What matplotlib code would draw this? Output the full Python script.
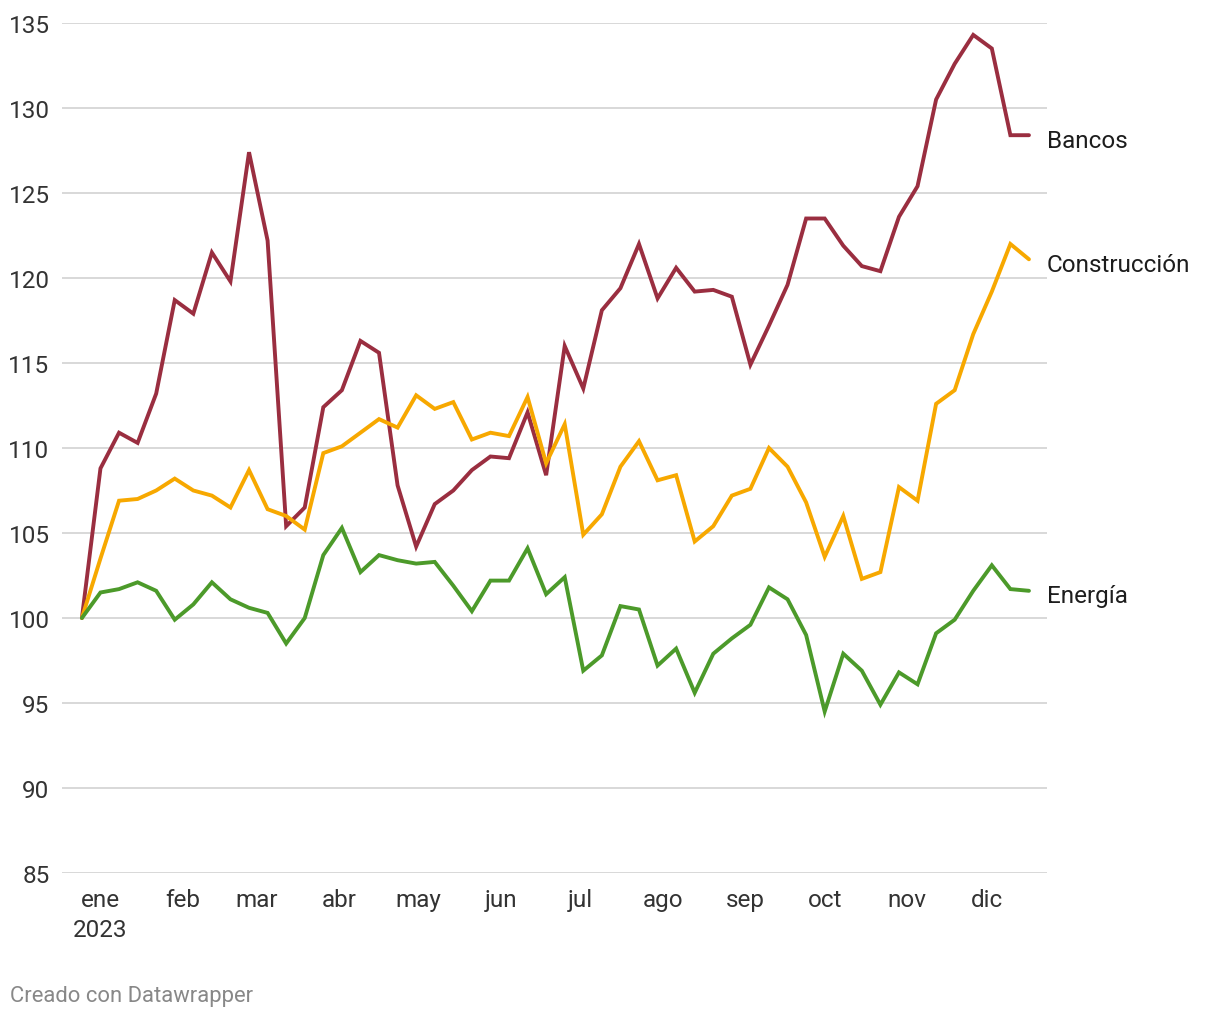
import matplotlib.pyplot as plt
import matplotlib.dates as mdates
import pandas as pd

plt.rcParams['font.family'] = ['Roboto', 'DejaVu Sans']

# Fechas semanales (52 semanas)
fechas = pd.date_range('2022-12-25', periods=52, freq='7D')

# Valores de cada índice (base 100)
bancos = [100, 108.8, 110.9, 110.3, 113.2, 118.7, 117.9, 121.5, 119.8, 127.4,
          122.2, 105.4, 106.5, 112.4, 113.4, 116.3, 115.6, 107.8, 104.2, 106.7,
          107.5, 108.7, 109.5, 109.4, 112.1, 108.4, 116.0, 113.5, 118.1, 119.4,
          122.0, 118.8, 120.6, 119.2, 119.3, 118.9, 114.9, 117.2, 119.6, 123.5,
          123.5, 121.9, 120.7, 120.4, 123.6, 125.4, 130.5, 132.6, 134.3, 133.5,
          128.4, 128.4]
construccion = [100, 103.5, 106.9, 107.0, 107.5, 108.2, 107.5, 107.2, 106.5, 108.7,
                106.4, 106.0, 105.2, 109.7, 110.1, 110.9, 111.7, 111.2, 113.1, 112.3,
                112.7, 110.5, 110.9, 110.7, 113.0, 109.1, 111.4, 104.9, 106.1, 108.9,
                110.4, 108.1, 108.4, 104.5, 105.4, 107.2, 107.6, 110.0, 108.9, 106.8,
                103.6, 106.0, 102.3, 102.7, 107.7, 106.9, 112.6, 113.4, 116.7, 119.2,
                122.0, 121.1]
energia = [100, 101.5, 101.7, 102.1, 101.6, 99.9, 100.8, 102.1, 101.1, 100.6,
           100.3, 98.5, 100.0, 103.7, 105.3, 102.7, 103.7, 103.4, 103.2, 103.3,
           101.9, 100.4, 102.2, 102.2, 104.1, 101.4, 102.4, 96.9, 97.8, 100.7,
           100.5, 97.2, 98.2, 95.6, 97.9, 98.8, 99.6, 101.8, 101.1, 99.0,
           94.5, 97.9, 96.9, 94.9, 96.8, 96.1, 99.1, 99.9, 101.6, 103.1,
           101.7, 101.6]

series = [('Bancos', bancos, '#9a2e40'),
          ('Construcción', construccion, '#f7a800'),
          ('Energía', energia, '#4c9a2a')]

meses = ['ene\n2023', 'feb', 'mar', 'abr', 'may', 'jun',
         'jul', 'ago', 'sep', 'oct', 'nov', 'dic']
inicio_meses = pd.date_range('2023-01-01', periods=12, freq='MS')

fig = plt.figure(figsize=(12.2, 10.2), dpi=100)
ax = fig.add_axes([62 / 1220, 1 - 874 / 1020, (1047 - 62) / 1220, 850 / 1020])

# Líneas de cada sector con su etiqueta al final
for nombre, valores, color in series:
    ax.plot(fechas, valores, color=color, linewidth=2.8, solid_joinstyle='miter',
            solid_capstyle='round', zorder=3)
    ax.annotate(nombre, xy=(fechas[-1], valores[-1]), xytext=(13, -3.5),
                textcoords='offset points', va='center', ha='left',
                fontsize=17.5, color='#1d1d1d', annotation_clip=False)

ax.set_ylim(85, 135)
ax.set_yticks(range(85, 136, 5))
ax.set_xlim(fechas[0] - pd.Timedelta(days=7.5), fechas[-1] + pd.Timedelta(days=6.8))
ax.set_xticks(inicio_meses)
ax.set_xticklabels(meses, linespacing=1.4)

# Estilo Datawrapper: rejilla gris y sin bordes
ax.grid(axis='y', color='#d6d6d6', linewidth=1.3, zorder=0)
ax.grid(axis='x', visible=False)
for lado in ax.spines.values():
    lado.set_visible(False)
ax.tick_params(axis='both', length=0, labelsize=17.5, labelcolor='#333333')
ax.tick_params(axis='y', pad=9)
ax.tick_params(axis='x', pad=11)

fig.text(10 / 1220, 1 - 997 / 1020, 'Creado con Datawrapper', fontsize=15.8,
         color='#888888', va='center', ha='left')

plt.savefig('out.png', dpi=100)
plt.close()
